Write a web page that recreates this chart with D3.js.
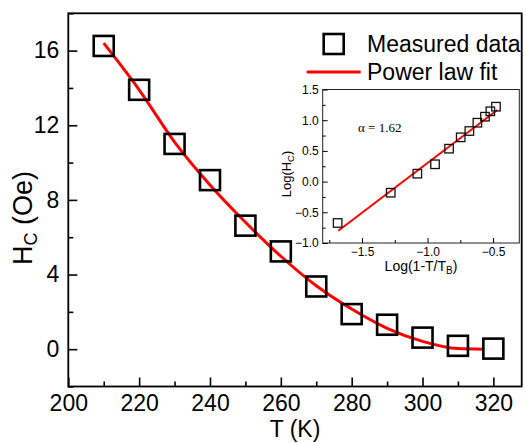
<!DOCTYPE html>
<html lang="en">
<head>
<meta charset="UTF-8">
<title>Hc vs T</title>
<script src="https://cdn.jsdelivr.net/npm/d3@7"></script>
<style>
    body { margin: 0; background: #fff; }
    svg { display: block; font-family: "Liberation Sans", Arial, sans-serif; }
    .tick line { stroke: #000; }
    .tick text { fill: #000; }
</style>
</head>
<body>
<script>
// measured coercivity
const temps = [210, 220, 230, 240, 250, 260, 270, 280, 290, 300, 310, 320];
const hc = [16.25, 13.9, 11.0, 9.06, 6.62, 5.24, 3.36, 1.88, 1.31, 0.62, 0.18, 0.03];

// power law fit curve
const fitT = [210, 220, 230, 240, 250, 260, 270, 280, 290, 300, 310, 317];
const fitH = [16.4, 13.9, 11.1, 8.8, 6.8, 4.98, 3.4, 2.15, 1.12, 0.42, 0.03, 0];

// inset: log-log
const logT = [-1.686, -1.281, -1.078, -0.943, -0.836, -0.747, -0.681, -0.620, -0.562, -0.521, -0.478];
const logH = [-0.674, -0.181, 0.129, 0.282, 0.536, 0.721, 0.824, 0.959, 1.057, 1.145, 1.22];
const fitLogT = [-1.681, -0.468];
const fitLogH = [-0.8, 1.166];

const xMajor = [200, 220, 240, 260, 280, 300, 320];
const xMinor = [210, 230, 250, 270, 290, 310];
const yMajor = [0, 4, 8, 12, 16];
const yMinor = [-2, 2, 6, 10, 14, 18];
const insetXMajor = [-1.5, -1.0, -0.5];
const insetXMinor = [-1.75, -1.25, -0.75];
const insetYMajor = [-1.0, -0.5, 0.0, 0.5, 1.0, 1.5];
const insetYMinor = [-0.75, -0.25, 0.25, 0.75, 1.25];

const w = 526, h = 443;
const svg = d3.select('body').append('svg').attr('width', w).attr('height', h);

const x = d3.scaleLinear([200, 328], [68.3, 521.7]);
const y = d3.scaleLinear([-2, 18], [386.5, 13.3]);

// main axes (ticks inward)
svg.append('g')
    .attr('transform', `translate(0,${y(-2)})`)
    .call(d3.axisBottom(x).tickValues(xMinor).tickSize(-5).tickFormat(''))
    .call(g => g.select('.domain').remove());
svg.append('g')
    .attr('transform', `translate(0,${y(-2)})`)
    .call(d3.axisBottom(x).tickValues(xMajor).tickSize(-9).tickPadding(8).tickFormat(d3.format('d')))
    .call(g => g.select('.domain').remove())
    .selectAll('text').attr('font-size', 23).attr('font-family', '"Liberation Sans", Arial');
svg.append('g')
    .attr('transform', `translate(${x(200)},0)`)
    .call(d3.axisLeft(y).tickValues(yMinor).tickSize(-5).tickFormat(''))
    .call(g => g.select('.domain').remove());
svg.append('g')
    .attr('transform', `translate(${x(200)},0)`)
    .call(d3.axisLeft(y).tickValues(yMajor).tickSize(-9).tickPadding(9).tickFormat(d3.format('d')))
    .call(g => g.select('.domain').remove())
    .selectAll('text').attr('font-size', 23).attr('font-family', '"Liberation Sans", Arial');
svg.selectAll('.tick line').attr('stroke-width', 1.6);

svg.append('rect')
    .attr('x', x(200)).attr('y', y(18))
    .attr('width', x(328) - x(200)).attr('height', y(-2) - y(18))
    .attr('fill', 'none').attr('stroke', '#000').attr('stroke-width', 1.8);

// axis titles
svg.append('text')
    .attr('x', (x(200) + x(328)) / 2).attr('y', 437)
    .attr('text-anchor', 'middle').attr('font-size', 23)
    .text('T (K)');
const yt = svg.append('text')
    .attr('transform', `translate(32,218) rotate(-90)`)
    .attr('text-anchor', 'middle').attr('font-size', 27);
yt.append('tspan').text('H');
yt.append('tspan').attr('font-size', 18).attr('dy', 5).text('C');
yt.append('tspan').attr('dy', -5).text(' (Oe)');

// fit curve
const line = d3.line()
    .x(d => x(d[0])).y(d => y(d[1]))
    .curve(d3.curveMonotoneX);
svg.append('path')
    .datum(fitT.map((t, i) => [t, fitH[i]]))
    .attr('d', line)
    .attr('fill', 'none').attr('stroke', '#ff0000').attr('stroke-width', 3);

// measured squares
const sq = 20;
svg.selectAll('rect.pt')
    .data(temps.map((t, i) => [t, hc[i]]))
    .enter().append('rect')
    .attr('class', 'pt')
    .attr('x', d => x(d[0]) - sq / 2).attr('y', d => y(d[1]) - sq / 2)
    .attr('width', sq).attr('height', sq)
    .attr('fill', 'none').attr('stroke', '#000').attr('stroke-width', 2.6);

// legend
svg.append('rect')
    .attr('x', 323.7).attr('y', 34).attr('width', sq).attr('height', sq)
    .attr('fill', 'none').attr('stroke', '#000').attr('stroke-width', 2.6);
svg.append('text').attr('x', 367).attr('y', 52).attr('font-size', 23).text('Measured data');
svg.append('line')
    .attr('x1', 306.7).attr('x2', 360.7).attr('y1', 72).attr('y2', 72)
    .attr('stroke', '#ff0000').attr('stroke-width', 3);
svg.append('text').attr('x', 367).attr('y', 79.5).attr('font-size', 23).text('Power law fit');

// inset
const ix = d3.scaleLinear([-1.8, -0.3], [322.7, 519.3]);
const iy = d3.scaleLinear([-1, 1.5], [243, 89.5]);
const inset = svg.append('g');

inset.append('rect')
    .attr('x', ix(-1.8)).attr('y', iy(1.5))
    .attr('width', ix(-0.3) - ix(-1.8)).attr('height', iy(-1) - iy(1.5))
    .attr('fill', '#fff').attr('stroke', '#222').attr('stroke-width', 1);

inset.append('g')
    .attr('transform', `translate(0,${iy(-1)})`)
    .call(d3.axisBottom(ix).tickValues(insetXMinor).tickSize(-3).tickFormat(''))
    .call(g => g.select('.domain').remove());
inset.append('g')
    .attr('transform', `translate(0,${iy(-1)})`)
    .call(d3.axisBottom(ix).tickValues(insetXMajor).tickSize(-5).tickPadding(4).tickFormat(d3.format('.1f')))
    .call(g => g.select('.domain').remove())
    .selectAll('text').attr('font-size', 12).attr('font-family', '"Liberation Sans", Arial');
inset.append('g')
    .attr('transform', `translate(${ix(-1.8)},0)`)
    .call(d3.axisLeft(iy).tickValues(insetYMinor).tickSize(-3).tickFormat(''))
    .call(g => g.select('.domain').remove());
inset.append('g')
    .attr('transform', `translate(${ix(-1.8)},0)`)
    .call(d3.axisLeft(iy).tickValues(insetYMajor).tickSize(-5).tickPadding(4).tickFormat(d3.format('.1f')))
    .call(g => g.select('.domain').remove())
    .selectAll('text').attr('font-size', 12).attr('font-family', '"Liberation Sans", Arial');
inset.selectAll('.tick line').attr('stroke-width', 1);

const ixt = inset.append('text')
    .attr('x', (ix(-1.8) + ix(-0.3)) / 2).attr('y', 270.5)
    .attr('text-anchor', 'middle').attr('font-size', 14);
ixt.append('tspan').text('Log(1-T/T');
ixt.append('tspan').attr('font-size', 10).attr('dy', 3).text('B');
ixt.append('tspan').attr('dy', -3).text(')');

const iyt = inset.append('text')
    .attr('transform', `translate(291,174) rotate(-90)`)
    .attr('text-anchor', 'middle').attr('font-size', 13);
iyt.append('tspan').text('Log(H');
iyt.append('tspan').attr('font-size', 9.5).attr('dy', 3).text('C');
iyt.append('tspan').attr('dy', -3).text(')');

inset.append('text')
    .attr('x', 358).attr('y', 131.5)
    .attr('font-family', '"Liberation Serif", "Times New Roman", serif')
    .attr('font-size', 13)
    .text('\u03b1 = 1.62');

inset.append('path')
    .datum(fitLogT.map((t, i) => [t, fitLogH[i]]))
    .attr('d', d3.line().x(d => ix(d[0])).y(d => iy(d[1])))
    .attr('fill', 'none').attr('stroke', '#ff0000').attr('stroke-width', 2);

const isq = 8.5;
inset.selectAll('rect.ipt')
    .data(logT.map((t, i) => [t, logH[i]]))
    .enter().append('rect')
    .attr('class', 'ipt')
    .attr('x', d => ix(d[0]) - isq / 2).attr('y', d => iy(d[1]) - isq / 2)
    .attr('width', isq).attr('height', isq)
    .attr('fill', 'none').attr('stroke', '#111').attr('stroke-width', 1.3);
</script>
</body>
</html>
